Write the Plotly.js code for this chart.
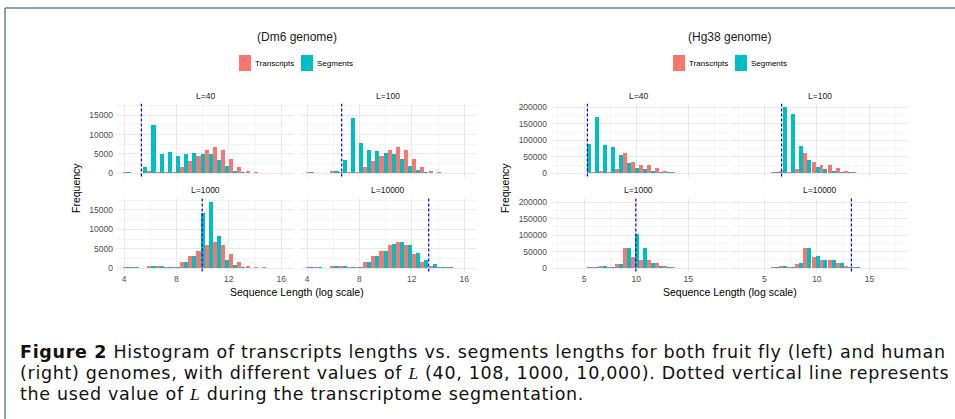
<!DOCTYPE html>
<html><head><meta charset="utf-8">
<script src="https://cdn.plot.ly/plotly-3.0.1.min.js"></script>
<style>html,body{margin:0;padding:0;background:#fff;}#chart{width:955px;height:419px;}</style>
</head><body><div id="chart"></div>
<script>
// ---------- DATA (log2 sequence length bins, frequencies) ----------
const dm6Bins = [4.21, 4.84, 5.46, 6.09, 6.71, 7.34, 7.96, 8.59, 9.21, 9.84, 10.46, 11.09, 11.71, 12.34, 12.96, 13.59, 14.21, 14.84, 15.46, 16.09];
const dm6Transcripts = [350, 200, 150, 500, 450, 300, 400, 1500, 3100, 4400, 6000, 6700, 5900, 3700, 1700, 550, 250, 200, 150, 100];
const dm6SegL40    = [300, 150, 1500, 12600, 4900, 5400, 4500, 4900, 5200, 5000, 5000, 3400, 1800, 700, 300, 150, 100, 80, 60, 50];
const dm6SegL100   = [300, 150, 100, 500, 3500, 14400, 7800, 6100, 5800, 5200, 5000, 3600, 1900, 850, 300, 150, 100, 80, 60, 50];
const dm6SegL1000  = [350, 200, 150, 600, 450, 250, 350, 1500, 3100, 14100, 17100, 8300, 2200, 700, 200, 150, 120, 100, 80, 60];
const dm6SegL10000 = [350, 200, 150, 500, 450, 300, 400, 1500, 3100, 4400, 6200, 6800, 6000, 3900, 2000, 1000, 250, 200, 150, 100];

const hgBins = [2.98, 3.75, 4.51, 5.28, 6.04, 6.81, 7.57, 8.34, 9.10, 9.87, 10.63, 11.40, 12.16, 12.93, 13.69, 14.46, 15.22, 15.99, 16.75, 17.52];
const hgTranscripts = [1500, 1500, 1500, 2000, 3500, 7000, 3500, 14000, 62000, 35000, 26000, 25000, 15000, 6000, 3000, 2000, 1500, 1200, 1000, 800];
const hgSegL40    = [1500, 1500, 1500, 88000, 172000, 87000, 80000, 55000, 32000, 17000, 12000, 8000, 5000, 3000, 2000, 1500, 1200, 1000, 800, 600];
const hgSegL100   = [1500, 1500, 1500, 2000, 3000, 201000, 181000, 82000, 40000, 18000, 12000, 8000, 5000, 3000, 2000, 1500, 1200, 1000, 800, 600];
const hgSegL1000  = [1500, 1500, 2000, 2500, 4000, 7000, 3500, 14000, 62000, 104000, 60000, 16000, 6000, 3000, 2000, 1500, 1200, 1000, 800, 600];
const hgSegL10000 = [1500, 1500, 1500, 2000, 3500, 7000, 3500, 14500, 62000, 36000, 26000, 25000, 16000, 4000, 4000, 2000, 1500, 1200, 1000, 800];

const Lvalues = [40, 100, 1000, 10000];
const panelLabels = ['L=40', 'L=100', 'L=1000', 'L=10000'];
const seriesNames = ['Transcripts', 'Segments'];
const dm6TickVals = [4, 8, 12, 16];
const hgTickVals = [5, 10, 15];
const dm6YTicks = [0, 5000, 10000, 15000];
const hgYTicks = [0, 50000, 100000, 150000, 200000];

// ---------- LAYOUT HELPERS ----------
const W = 955, H = 419;
const px = x => x / W;
const py = y => 1 - y / H;
const COL_T = '#F8766D', COL_S = '#00BFC4';
const FONT = 'Liberation Sans, Arial, sans-serif';

const dm6Cols = [[117, 293], [300, 476]];
const hgCols = [[551, 726.5], [731, 908]];
const rows = [[103.8, 176.6], [198.5, 271.5]];
const dm6XRange = [3.46, 16.9];
const hgXRange = [1.83, 18.67];

const figs = [
  {bins: dm6Bins, tr: dm6Transcripts, segs: [dm6SegL40, dm6SegL100, dm6SegL1000, dm6SegL10000], cols: dm6Cols, xr: dm6XRange,
   xt: dm6TickVals, xminor: [6, 10, 14], yt: dm6YTicks, yminor: [2500, 7500, 12500, 17500], title: '(Dm6 genome)', cx: 297, leg: 239},
  {bins: hgBins, tr: hgTranscripts, segs: [hgSegL40, hgSegL100, hgSegL1000, hgSegL10000], cols: hgCols, xr: hgXRange,
   xt: hgTickVals, xminor: [2.5, 7.5, 12.5, 17.5], yt: hgYTicks, yminor: [25000, 75000, 125000, 175000], title: '(Hg38 genome)', cx: 729, leg: 673}
];

const data = [], layout = {
  width: W, height: H, margin: {l: 0, r: 0, t: 0, b: 0},
  paper_bgcolor: '#fff', plot_bgcolor: 'rgba(0,0,0,0)',
  barmode: 'group', bargap: 0, bargroupgap: 0, showlegend: false,
  font: {family: FONT, color: '#4d4d4d'},
  shapes: [], annotations: []
};

let axN = 0;
figs.forEach((f, fi) => {
  let ymax = 0;
  f.segs.forEach(s => s.forEach(v => { if (v > ymax) ymax = v; }));
  f.tr.forEach(v => { if (v > ymax) ymax = v; });
  const yr = [-0.05 * ymax, 1.05 * ymax];
  for (let p = 0; p < 4; p++) {
    axN++;
    const r = Math.floor(p / 2), c = p % 2;
    const xs = axN === 1 ? '' : axN, xn = 'x' + xs, yn = 'y' + xs;
    const xcol = f.cols[c], yrow = rows[r];
    data.push({type: 'bar', x: f.bins, y: f.tr, name: seriesNames[0], xaxis: xn, yaxis: yn,
      marker: {color: COL_T, line: {width: 0}}, hoverinfo: 'x+y+name'});
    data.push({type: 'bar', x: f.bins, y: f.segs[p], name: seriesNames[1], xaxis: xn, yaxis: yn,
      marker: {color: COL_S, line: {width: 0}}, hoverinfo: 'x+y+name'});
    layout['xaxis' + xs] = {
      domain: [px(xcol[0]), px(xcol[1])], anchor: yn, range: f.xr, fixedrange: true,
      tickvals: f.xt, ticktext: f.xt.map(String), showticklabels: r === 1, ticks: '',
      tickfont: {size: 8.5, color: '#4d4d4d', family: FONT}, ticklabelstandoff: 1,
      showgrid: true, gridcolor: '#e9e9e9', gridwidth: 1, zeroline: false, showline: false,
      minor: {tickvals: f.xminor, showgrid: true, gridcolor: '#efefef', gridwidth: 0.7}
    };
    layout['yaxis' + xs] = {
      domain: [py(yrow[1]), py(yrow[0])], anchor: xn, range: yr, fixedrange: true,
      tickvals: f.yt, ticktext: f.yt.map(String), showticklabels: c === 0, ticks: '',
      tickfont: {size: 8.5, color: '#4d4d4d', family: FONT}, ticklabelstandoff: 3,
      showgrid: true, gridcolor: '#e9e9e9', gridwidth: 1, zeroline: false, showline: false,
      minor: {tickvals: f.yminor, showgrid: true, gridcolor: '#efefef', gridwidth: 0.7}
    };
    // dashed line at log2(L)
    layout.shapes.push({type: 'line', xref: xn, yref: yn + ' domain', x0: Math.log2(Lvalues[p]), x1: Math.log2(Lvalues[p]),
      y0: 0, y1: 1, line: {color: '#0000ff', width: 1.2, dash: '3px,2px'}});
    // strip label
    layout.annotations.push({text: panelLabels[p], xref: 'paper', yref: 'paper', x: px((xcol[0] + xcol[1]) / 2),
      y: py(r === 0 ? 96 : 190), xanchor: 'center', yanchor: 'middle', showarrow: false,
      font: {size: 8.5, color: '#1a1a1a', family: FONT}});
  }
  // figure title
  layout.annotations.push({text: f.title, xref: 'paper', yref: 'paper', x: px(f.cx), y: py(37), xanchor: 'center', yanchor: 'middle',
    showarrow: false, font: {size: 12, color: '#1a1a1a', family: FONT}});
  // axis titles
  layout.annotations.push({text: 'Sequence Length (log scale)', xref: 'paper', yref: 'paper', x: px((f.cols[0][0] + f.cols[1][1]) / 2),
    y: py(292), xanchor: 'center', yanchor: 'middle', showarrow: false, font: {size: 10.5, color: '#000', family: FONT}});
  layout.annotations.push({text: 'Frequency', xref: 'paper', yref: 'paper', x: px(fi === 0 ? 76 : 505), y: py(188),
    xanchor: 'center', yanchor: 'middle', textangle: -90, showarrow: false, font: {size: 10.5, color: '#000', family: FONT}});
  // legend (keys + labels)
  const lx = f.leg;
  layout.shapes.push({type: 'rect', xref: 'paper', yref: 'paper', x0: px(lx), x1: px(lx + 12), y0: py(71), y1: py(55),
    fillcolor: COL_T, line: {width: 0}});
  layout.annotations.push({text: seriesNames[0], xref: 'paper', yref: 'paper', x: px(lx + 14), y: py(63), xanchor: 'left',
    yanchor: 'middle', showarrow: false, font: {size: 8, color: '#000', family: FONT}});
  layout.shapes.push({type: 'rect', xref: 'paper', yref: 'paper', x0: px(lx + 62), x1: px(lx + 74), y0: py(71), y1: py(55),
    fillcolor: COL_S, line: {width: 0}});
  layout.annotations.push({text: seriesNames[1], xref: 'paper', yref: 'paper', x: px(lx + 76), y: py(63), xanchor: 'left',
    yanchor: 'middle', showarrow: false, font: {size: 8, color: '#000', family: FONT}});
});

// frame lines
layout.shapes.push({type: 'line', xref: 'paper', yref: 'paper', x0: px(5), x1: px(956), y0: py(8), y1: py(8), line: {color: '#6482a6', width: 1.5}});
layout.shapes.push({type: 'line', xref: 'paper', yref: 'paper', x0: px(5), x1: px(5), y0: py(8), y1: py(420), line: {color: '#6482a6', width: 1.5}});

// caption
const CAP = 'DejaVu Sans, Liberation Sans, sans-serif';
const Lit = '<span style="font-family:Liberation Serif,serif"><i>L</i></span>';
const capLines = [
  '<b>Figure 2</b> Histogram of transcripts lengths vs. segments lengths for both fruit fly (left) and human',
  '(right) genomes, with different values of ' + Lit + ' (40, 108, 1000, 10,000). Dotted vertical line represents',
  'the used value of ' + Lit + ' during the transcriptome segmentation.'
];
[352, 373, 394].forEach((yy, i) => {
  layout.annotations.push({text: '<span style="letter-spacing:0.68px">' + capLines[i] + '</span>', xref: 'paper', yref: 'paper',
    x: px(18), y: py(yy), xanchor: 'left', yanchor: 'middle',
    showarrow: false, font: {size: 17.5, color: '#111', family: CAP}});
});

Plotly.newPlot('chart', data, layout, {displayModeBar: false, staticPlot: true});
</script></body></html>
